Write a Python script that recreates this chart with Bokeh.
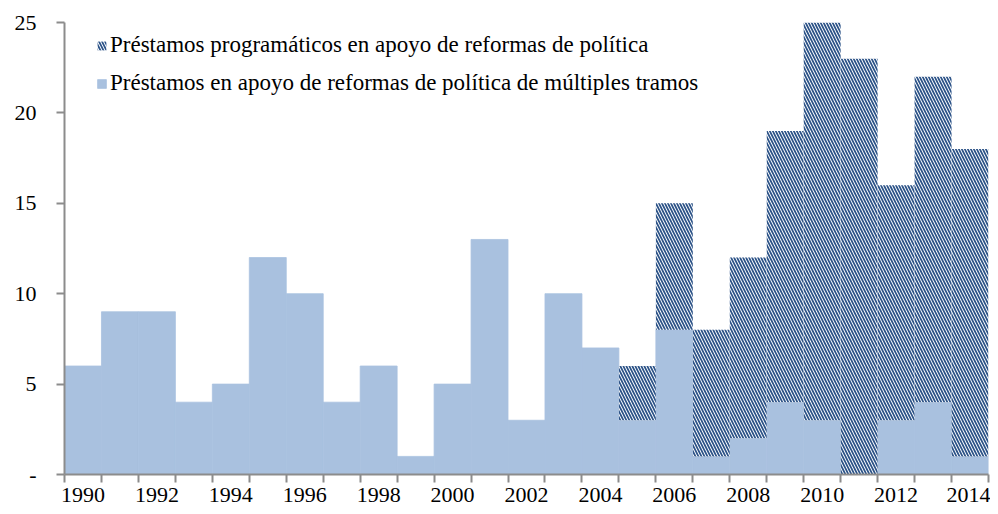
from bokeh.plotting import figure
from bokeh.models import Range1d, FixedTicker, Legend, LegendItem, ColumnDataSource
from bokeh.embed import file_html
from bokeh.resources import INLINE

years = list(range(1990, 2015))
multi_tranche = [6, 9, 9, 4, 5, 12, 10, 4, 6, 1, 5, 13, 3, 10, 7, 3, 8, 1, 2, 4, 3, 0, 3, 4, 1]
programmatic = [0, 0, 0, 0, 0, 0, 0, 0, 0, 0, 0, 0, 0, 0, 0, 3, 7, 7, 10, 15, 22, 23, 13, 18, 17]
label_years = list(range(1990, 2015, 2))
y_ticks = [0, 5, 10, 15, 20, 25]
y_labels = {0: "-"}
series_names = ["Préstamos programáticos en apoyo de reformas de política",
                "Préstamos en apoyo de reformas de política de múltiples tramos"]

FONT = "Liberation Serif"
BLUE = "#A9C1DF"
DARK = "#2B5287"
AXIS = "#8C8C8C"

src = ColumnDataSource(dict(
    x=years,
    blue=multi_tranche,
    prog_bottom=multi_tranche,
    prog_top=[a + b for a, b in zip(multi_tranche, programmatic)],
))

p = figure(width=990, height=506, output_backend="svg", toolbar_location=None,
           x_range=Range1d(years[0] - 0.5, years[-1] + 0.5), y_range=Range1d(0, 25),
           min_border_left=64, min_border_right=2, min_border_top=22, min_border_bottom=32)
p.outline_line_color = None
p.xgrid.grid_line_color = None
p.ygrid.grid_line_color = None
p.background_fill_color = "white"

r_blue = p.vbar(x="x", width=1.0, bottom=0, top="blue", source=src,
                fill_color=BLUE, line_color=BLUE, line_width=0.8)
r_prog = p.vbar(x="x", width=1.0, bottom="prog_bottom", top="prog_top", source=src,
                fill_color="white", line_color=None,
                hatch_pattern="\\", hatch_color=DARK, hatch_scale=6, hatch_weight=1.7)

# axes
xa = p.xaxis[0]
xa.ticker = FixedTicker(ticks=label_years, minor_ticks=[y - 0.5 for y in years] + [years[-1] + 0.5])
xa.major_tick_out = 0
xa.major_tick_in = 0
xa.minor_tick_out = 8
xa.minor_tick_in = 0
xa.minor_tick_line_color = AXIS
xa.minor_tick_line_width = 2
xa.axis_line_color = AXIS
xa.axis_line_width = 2
xa.major_label_text_font = FONT
xa.major_label_text_font_size = "22px"
xa.major_label_text_color = "black"
xa.major_label_standoff = 5

ya = p.yaxis[0]
ya.ticker = FixedTicker(ticks=y_ticks)
ya.major_label_overrides = y_labels
ya.major_tick_out = 8
ya.major_tick_in = 0
ya.minor_tick_out = 0
ya.minor_tick_in = 0
ya.major_tick_line_color = AXIS
ya.major_tick_line_width = 2
ya.axis_line_color = AXIS
ya.axis_line_width = 2
ya.major_label_text_font = FONT
ya.major_label_text_font_size = "22px"
ya.major_label_text_color = "black"
ya.major_label_standoff = 20

legend = Legend(items=[LegendItem(label=series_names[0], renderers=[r_prog]),
                       LegendItem(label=series_names[1], renderers=[r_blue])],
                location=(32, 378))
legend.label_text_font = FONT
legend.label_text_font_size = "23px"
legend.label_text_color = "black"
legend.glyph_width = 11
legend.glyph_height = 11
legend.label_standoff = 3
legend.label_height = 26
legend.spacing = 12
legend.padding = 0
legend.margin = 0
legend.border_line_color = None
legend.background_fill_alpha = 0
p.add_layout(legend, "center")

open("out.html", "w").write(file_html(p, INLINE))
